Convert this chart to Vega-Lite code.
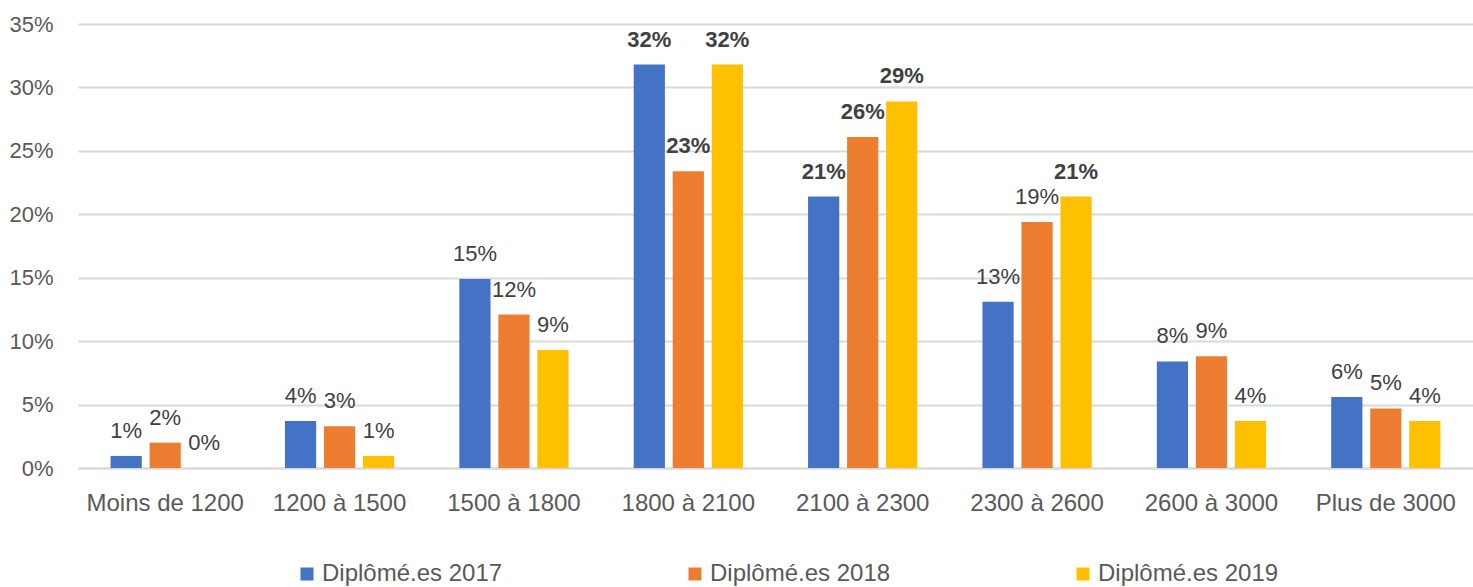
{
  "$schema": "https://vega.github.io/schema/vega-lite/v6.json",
  "width": 1395,
  "height": 444,
  "autosize": {"type": "none"},
  "padding": {"left": 78, "top": 24, "right": 0, "bottom": 119},
  "config": {
    "view": {"stroke": null},
    "font": "Liberation Sans"
  },
  "data": {
    "values": [
      {"cat": "Moins de 1200", "serie": "Diplômé.es 2017", "v": 0.0095},
      {"cat": "Moins de 1200", "serie": "Diplômé.es 2018", "v": 0.020},
      {"cat": "Moins de 1200", "serie": "Diplômé.es 2019", "v": 0.0},
      {"cat": "1200 à 1500", "serie": "Diplômé.es 2017", "v": 0.037},
      {"cat": "1200 à 1500", "serie": "Diplômé.es 2018", "v": 0.033},
      {"cat": "1200 à 1500", "serie": "Diplômé.es 2019", "v": 0.0095},
      {"cat": "1500 à 1800", "serie": "Diplômé.es 2017", "v": 0.149},
      {"cat": "1500 à 1800", "serie": "Diplômé.es 2018", "v": 0.121},
      {"cat": "1500 à 1800", "serie": "Diplômé.es 2019", "v": 0.093},
      {"cat": "1800 à 2100", "serie": "Diplômé.es 2017", "v": 0.318},
      {"cat": "1800 à 2100", "serie": "Diplômé.es 2018", "v": 0.234},
      {"cat": "1800 à 2100", "serie": "Diplômé.es 2019", "v": 0.318},
      {"cat": "2100 à 2300", "serie": "Diplômé.es 2017", "v": 0.214},
      {"cat": "2100 à 2300", "serie": "Diplômé.es 2018", "v": 0.261},
      {"cat": "2100 à 2300", "serie": "Diplômé.es 2019", "v": 0.289},
      {"cat": "2300 à 2600", "serie": "Diplômé.es 2017", "v": 0.131},
      {"cat": "2300 à 2600", "serie": "Diplômé.es 2018", "v": 0.194},
      {"cat": "2300 à 2600", "serie": "Diplômé.es 2019", "v": 0.214},
      {"cat": "2600 à 3000", "serie": "Diplômé.es 2017", "v": 0.084},
      {"cat": "2600 à 3000", "serie": "Diplômé.es 2018", "v": 0.088},
      {"cat": "2600 à 3000", "serie": "Diplômé.es 2019", "v": 0.037},
      {"cat": "Plus de 3000", "serie": "Diplômé.es 2017", "v": 0.056},
      {"cat": "Plus de 3000", "serie": "Diplômé.es 2018", "v": 0.047},
      {"cat": "Plus de 3000", "serie": "Diplômé.es 2019", "v": 0.037}
    ]
  },
  "encoding": {
    "x": {
      "field": "cat", "type": "nominal", "sort": null,
      "scale": {"paddingInner": 0, "paddingOuter": 0},
      "axis": {
        "title": null, "labelAngle": 0, "labelFontSize": 24, "labelColor": "#595959",
        "labelPadding": 23, "ticks": false, "domain": true, "domainColor": "#d9d9d9",
        "domainWidth": 2, "grid": false
      }
    },
    "xOffset": {
      "field": "serie", "type": "nominal",
      "scale": {"paddingInner": 0.2, "paddingOuter": 0.835}
    },
    "y": {
      "field": "v", "type": "quantitative",
      "scale": {"domain": [0, 0.35], "nice": false},
      "axis": {
        "title": null, "format": ".0%", "values": [0, 0.05, 0.1, 0.15, 0.2, 0.25, 0.3, 0.35],
        "labelFontSize": 22, "labelColor": "#595959", "labelPadding": 25,
        "ticks": false, "domain": false, "gridColor": "#d9d9d9", "gridWidth": 2
      }
    }
  },
  "layer": [
    {
      "mark": {"type": "bar"},
      "encoding": {
        "color": {
          "field": "serie", "type": "nominal",
          "scale": {"domain": ["Diplômé.es 2017", "Diplômé.es 2018", "Diplômé.es 2019"], "range": ["#4472C4", "#ED7D31", "#FFC000"]},
          "legend": {
            "title": null, "orient": "none", "legendX": 217, "legendY": 538,
            "direction": "horizontal", "columns": 3, "symbolType": "square",
            "symbolSize": 169, "symbolStrokeWidth": 0, "labelFontSize": 24, "labelLimit": 400,
            "labelColor": "#595959", "labelOffset": 3, "columnPadding": 180, "padding": 0
          }
        }
      }
    },
    {
      "transform": [{"filter": "datum.v < 0.2"}],
      "mark": {"type": "text", "baseline": "alphabetic", "dy": -18, "fontSize": 22, "color": "#404040"},
      "encoding": {"text": {"field": "v", "type": "quantitative", "format": ".0%"}}
    },
    {
      "transform": [{"filter": "datum.v >= 0.2"}],
      "mark": {"type": "text", "baseline": "alphabetic", "dy": -18, "fontSize": 22, "fontWeight": "bold", "color": "#404040"},
      "encoding": {"text": {"field": "v", "type": "quantitative", "format": ".0%"}}
    }
  ]
}
